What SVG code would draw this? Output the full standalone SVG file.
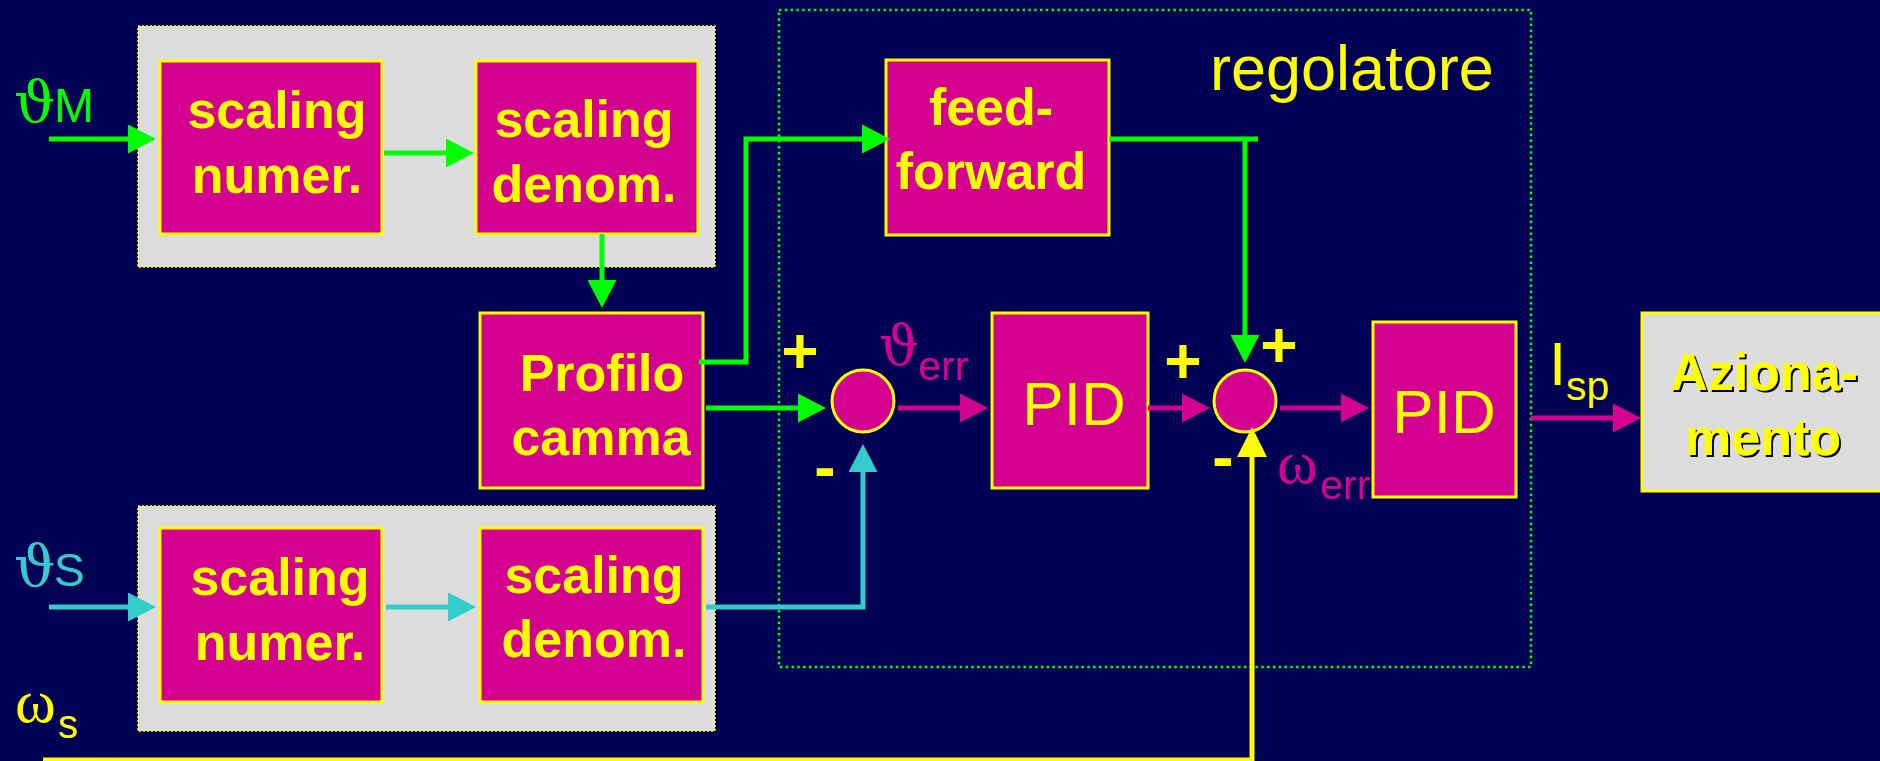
<svg xmlns="http://www.w3.org/2000/svg" width="1880" height="761" viewBox="0 0 1880 761">
  <style>
    .panel { fill: #dcdcdc; stroke: #ffff00; stroke-width: 1.5; stroke-dasharray: 2 2; }
    .blk { fill: #d4008f; stroke: #ffff00; stroke-width: 3; }
    .sum { fill: #d4008f; stroke: #ffff00; stroke-width: 3; }
    .btxt { font-family: "Liberation Sans", Arial, sans-serif; font-weight: bold; font-size: 52px; fill: #ffff00; text-anchor: middle; }
    .ptxt { font-family: "Liberation Sans", Arial, sans-serif; font-size: 62px; fill: #ffff00; text-anchor: middle; }
    .sign { font-family: "Liberation Sans", Arial, sans-serif; font-weight: bold; font-size: 64px; fill: #ffff00; text-anchor: middle; }
    .greek { font-family: "DejaVu Serif", "Liberation Serif", serif; }
    .omega { font-family: "Liberation Serif", "DejaVu Serif", serif; }
    .sans { font-family: "Liberation Sans", Arial, sans-serif; }
    .wire { fill: none; stroke-width: 5; stroke-linejoin: miter; stroke-linecap: butt; }
    .g { stroke: #00ff00; }
    .c { stroke: #33cccc; }
    .m { stroke: #d4008f; }
    .y { stroke: #ffff00; }
  </style>
  <defs>
    <marker id="ah-g" markerUnits="userSpaceOnUse" viewBox="0 0 28 29" markerWidth="28" markerHeight="29" refX="0" refY="14.5" orient="auto">
      <path d="M0,0 L28,14.5 L0,29 z" fill="#00ff00"/>
    </marker>
    <marker id="ah-c" markerUnits="userSpaceOnUse" viewBox="0 0 28 29" markerWidth="28" markerHeight="29" refX="0" refY="14.5" orient="auto">
      <path d="M0,0 L28,14.5 L0,29 z" fill="#33cccc"/>
    </marker>
    <marker id="ah-m" markerUnits="userSpaceOnUse" viewBox="0 0 28 29" markerWidth="28" markerHeight="29" refX="0" refY="14.5" orient="auto">
      <path d="M0,0 L28,14.5 L0,29 z" fill="#d4008f"/>
    </marker>
    <marker id="ah-y" markerUnits="userSpaceOnUse" viewBox="0 0 30 30" markerWidth="30" markerHeight="30" refX="0" refY="15" orient="auto">
      <path d="M0,0 L30,15 L0,30 z" fill="#ffff00"/>
    </marker>
    <filter id="shadow" x="-10%" y="-10%" width="120%" height="130%">
      <feDropShadow dx="2" dy="2" stdDeviation="0" flood-color="#000000"/>
    </filter>
  </defs>

  <!-- background -->
  <rect x="0" y="0" width="1880" height="761" fill="#000055"/>

  <!-- scaling panels -->
  <rect id="panel-master" class="panel" x="138" y="26" width="577" height="241"/>
  <rect id="panel-slave" class="panel" x="138" y="506" width="577" height="225"/>

  <!-- controller boundary -->
  <g id="regolatore">
    <rect x="779" y="10" width="752" height="657" fill="none" stroke="#00ff00" stroke-width="2.5" stroke-dasharray="2.5 3.3"/>
    <text x="1210" y="90" class="sans" font-size="63" fill="#ffff00">regolatore</text>
  </g>

  <g id="numer-master">
    <rect class="blk" x="160" y="61" width="222" height="173"/>
    <text class="btxt" x="277" y="128">scaling</text>
    <text class="btxt" x="277" y="193">numer.</text>
  </g>
  <g id="denom-master">
    <rect class="blk" x="476" y="61" width="222" height="173"/>
    <text class="btxt" x="584" y="137">scaling</text>
    <text class="btxt" x="584" y="202">denom.</text>
  </g>
  <g id="profilo">
    <rect class="blk" x="480" y="313" width="223" height="175"/>
    <text class="btxt" x="602" y="391">Profilo</text>
    <text class="btxt" x="601" y="455">camma</text>
  </g>
  <g id="numer-slave">
    <rect class="blk" x="160" y="528" width="222" height="174"/>
    <text class="btxt" x="280" y="595">scaling</text>
    <text class="btxt" x="280" y="660">numer.</text>
  </g>
  <g id="denom-slave">
    <rect class="blk" x="480" y="528" width="223" height="174"/>
    <text class="btxt" x="594" y="593">scaling</text>
    <text class="btxt" x="594" y="657">denom.</text>
  </g>
  <g id="feedforward">
    <rect class="blk" x="886" y="60" width="223" height="175"/>
    <text class="btxt" x="991" y="125">feed-</text>
    <text class="btxt" x="991" y="189">forward</text>
  </g>
  <g id="sum-position">
    <circle class="sum" cx="863" cy="401" r="31"/>
    <text class="sign" x="800" y="373">+</text>
    <text class="sign" x="825" y="489">-</text>
  </g>
  <g id="pid-position">
    <rect class="blk" x="992" y="313" width="156" height="175"/>
    <text class="ptxt" x="1074" y="425">PID</text>
  </g>
  <g id="sum-speed">
    <circle class="sum" cx="1245" cy="401" r="31"/>
    <text class="sign" x="1183" y="383">+</text>
    <text class="sign" x="1279" y="367">+</text>
    <text class="sign" x="1223" y="479">-</text>
  </g>
  <g id="pid-speed">
    <rect class="blk" x="1373" y="322" width="143" height="175"/>
    <text class="ptxt" x="1444" y="433">PID</text>
  </g>
  <g id="azionamento">
    <rect x="1642" y="313" width="260" height="178" fill="#dcdcdc" stroke="#ffff00" stroke-width="3"/>
    <g filter="url(#shadow)">
      <text class="btxt" x="1764" y="390">Aziona-</text>
      <text class="btxt" x="1763" y="455">mento</text>
    </g>
  </g>

  <!-- signal labels -->
  <g id="labels">
    <text class="greek" x="14" y="122" font-size="58" fill="#00ff00">ϑ</text>
    <text class="sans" x="54" y="122" font-size="48" fill="#00ff00">M</text>
    <text class="greek" x="14" y="586" font-size="58" fill="#33cccc">ϑ</text>
    <text class="sans" x="54" y="586" font-size="46" fill="#33cccc">S</text>
    <text class="omega" x="15" y="722" font-size="62" fill="#ffff00">ω</text>
    <text class="sans" x="58" y="738" font-size="40" fill="#ffff00">s</text>
    <text class="greek" x="879" y="365" font-size="56" fill="#d4008f">ϑ</text>
    <text class="sans" x="918" y="380" font-size="41" fill="#d4008f">err</text>
    <text class="omega" x="1277" y="483" font-size="62" fill="#d4008f">ω</text>
    <text class="sans" x="1320" y="499" font-size="41" fill="#d4008f">err</text>
    <text class="sans" x="1549" y="385" font-size="62" fill="#ffff00">I</text>
    <text class="sans" x="1566" y="400" font-size="41" fill="#ffff00">sp</text>
  </g>

  <!-- connectors -->
  <g id="connectors">
    <path class="wire g" d="M49,139 H128" marker-end="url(#ah-g)"/>
    <path class="wire g" d="M384,153 H446" marker-end="url(#ah-g)"/>
    <path class="wire g" d="M602,234 V280" marker-end="url(#ah-g)"/>
    <path class="wire g" d="M699,362 H746 V139 H862" marker-end="url(#ah-g)"/>
    <path class="wire g" d="M706,408 H798" marker-end="url(#ah-g)"/>
    <path class="wire g" d="M1109,139 H1258"/>
    <path class="wire g" d="M1245,139 V335" marker-end="url(#ah-g)"/>
    <path class="wire m" d="M898,408 H960" marker-end="url(#ah-m)"/>
    <path class="wire m" d="M1148,408 H1182" marker-end="url(#ah-m)"/>
    <path class="wire m" d="M1280,408 H1341" marker-end="url(#ah-m)"/>
    <path class="wire m" d="M1531,418 H1613" marker-end="url(#ah-m)"/>
    <path class="wire c" d="M49,607 H128" marker-end="url(#ah-c)"/>
    <path class="wire c" d="M386,607 H448" marker-end="url(#ah-c)"/>
    <path class="wire c" d="M706,607 H863 V472" marker-end="url(#ah-c)"/>
    <path class="wire y" d="M43,760 H1252 V457" marker-end="url(#ah-y)"/>
  </g>
</svg>
